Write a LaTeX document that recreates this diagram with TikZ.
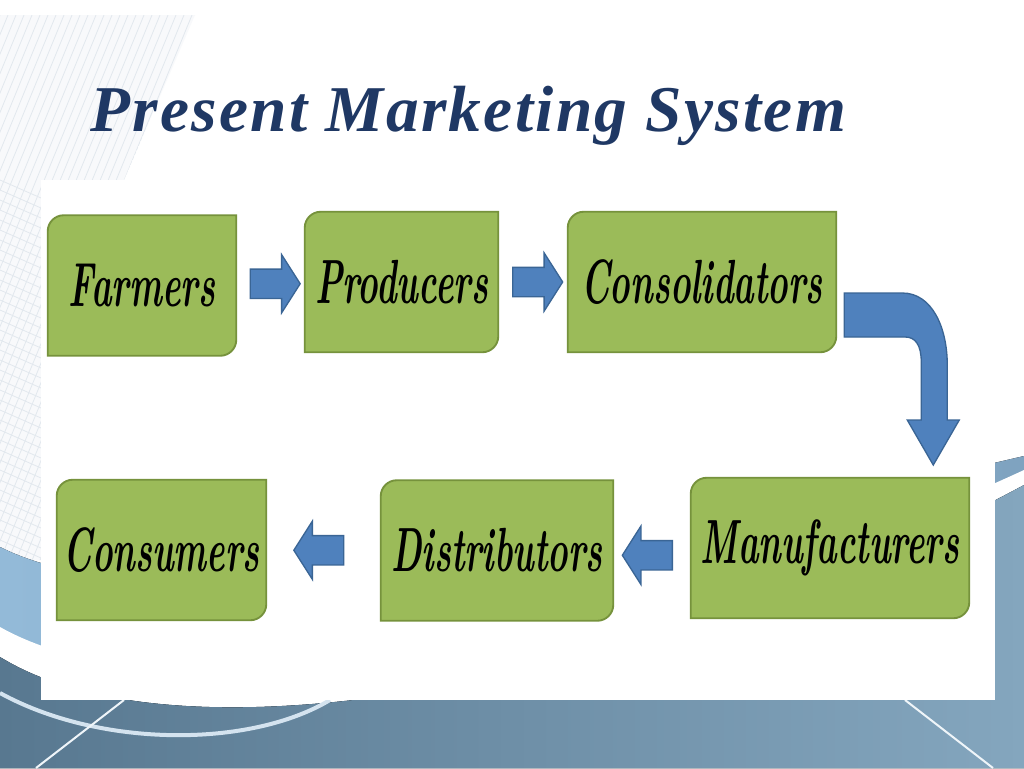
\documentclass[tikz,border=0pt]{standalone}
\usepackage{graphicx}
\usepackage{fontspec}
\usetikzlibrary{calc,shapes.arrows}

\newfontfamily\headfont[LetterSpace=3.5]{Liberation Serif}

\definecolor{titleblue}{HTML}{1F3864}
\definecolor{stagegreen}{HTML}{9BBB59}
\definecolor{stageedge}{HTML}{76923C}
\definecolor{flowblue}{HTML}{4F81BD}
\definecolor{flowedge}{HTML}{3A6595}
\definecolor{skyband}{HTML}{93BAD8}
\definecolor{skyright}{HTML}{7FA3C0}
\definecolor{seadark}{HTML}{587890}
\definecolor{sealight}{HTML}{84A6BE}
\definecolor{texgray}{HTML}{E2E8EE}

\pgfdeclarelayer{backdrop}
\pgfdeclarelayer{plates}
\pgfsetlayers{backdrop,plates,main}

\newdimen\px \px=0.75pt
\newcommand{\narrowtext}[1]{\scalebox{0.58}[1.04]{#1}}

\tikzset{
	stage/.style={minimum height=140\px, inner sep=0pt, text=black,
		font=\fontsize{45}{45}\selectfont\bfseries\itshape},
	plate/.style={fill=stagegreen, draw=stageedge, line width=1.4pt},
	flow/.style={single arrow, fill=flowblue, draw=flowedge, line width=1pt,
		minimum height=50\px, minimum width=57\px, inner sep=14\px,
		single arrow head extend=14.5\px, single arrow tip angle=115},
	texline/.style={draw=texgray, line width=0.6pt},
}

\begin{document}
\begin{tikzpicture}[x=0.75pt, y=0.75pt]
	\useasboundingbox (0,0) rectangle (1024,-768);

	\begin{pgfonlayer}{backdrop}
		\fill[white] (0,0) rectangle (1024,-768);
		\begin{scope}
			\clip (0,-15) -- (195,-15) -- (124,-180) -- (41,-180) -- (41,-560) -- (0,-560) -- cycle;
			\fill[texgray!25] (0,0) rectangle (200,-560);
			\foreach \x in {0,8,...,420}
				\draw[texline] (\x,-15) -- ++(-230,-560);
			\foreach \y in {-180,-190,...,-560}
				\draw[texline] (0,\y) -- ++(41,-18);
		\end{scope}
		\fill[left color=skyband, right color=skyright]
			(0,-547) .. controls (200,-647) and (750,-520) .. (1024,-456)
			-- (1024,-768) -- (0,-768) -- cycle;
		\fill[white]
			(0,-627) .. controls (200,-740) and (700,-620) .. (1024,-470)
			-- (1024,-485) .. controls (700,-660) and (200,-780) .. (0,-657) -- cycle;
		\fill[left color=seadark, right color=sealight]
			(0,-657) .. controls (200,-780) and (700,-660) .. (1024,-485)
			-- (1024,-768) -- (0,-768) -- cycle;
		\draw[white!60!skyband, line width=3pt] (0,-693) .. controls (100,-748) and (250,-748) .. (330,-700);
		\draw[white!85!skyband, line width=1.5pt] (36,-768) -- (124,-700);
		\draw[white!85!skyband, line width=1.5pt] (905,-700) -- (993,-768);
		\fill[white] (41,-180) rectangle (995,-700);
	\end{pgfonlayer}

	\node[anchor=base west, inner sep=0pt, text=titleblue,
		font=\headfont\fontsize{49}{49}\selectfont\bfseries\itshape] (title) at (90,-131) {Present Marketing System};

	\node[stage, minimum width=188\px] (farm) at (142,-285.5) {\narrowtext{Farmers}};
	\node[stage, minimum width=193\px] (prod) at (401.5,-282) {\narrowtext{Producers}};
	\node[stage, minimum width=268\px] (cons) at (702,-282) {\narrowtext{Consolidators}};
	\node[stage, minimum width=278\px] (manu) at (830,-548) {\narrowtext{Manufacturers}};
	\node[stage, minimum width=232\px] (dist) at (497,-550.5) {\narrowtext{Distributors}};
	\node[stage, minimum width=209\px] (cust) at (161.5,-550) {\narrowtext{Consumers}};

	\begin{pgfonlayer}{plates}
		\foreach \s in {farm,prod,cons,manu,dist,cust}
			\draw[plate] (\s.south west) -- ($(\s.north west)+(0,-16)$) arc[start angle=180, end angle=90, radius=16\px]
				-- (\s.north east) -- ($(\s.south east)+(0,16)$) arc[start angle=0, end angle=-90, radius=16\px] -- cycle;
	\end{pgfonlayer}

	\node[flow] (ar1) at ($(farm.east)!0.5!(prod.west)$) {};
	\node[flow] (ar2) at ($(prod.east)!0.5!(cons.west)$) {};
	\node[flow, shape border rotate=180, yshift=-6\px] (ar4) at ($(manu.west)!0.5!(dist.east)$) {};
	\node[flow, shape border rotate=180] (ar5) at ($(dist.west)!0.5!(cust.east)$) {};

	% bent arrow from Consolidators down to Manufacturers
	\coordinate (bend) at ($(cons.east)+(8,-11)$);
	\draw[fill=flowblue, draw=flowedge, line width=1pt, shift={(bend)}]
		(0,0) -- (58,0) .. controls (88,0) and (103,-35) .. (103,-72) -- (103,-127)
		-- (115,-127) -- (89,-172) -- (63,-127) -- (77,-127) -- (77,-69)
		.. controls (77,-52) and (71,-44) .. (61,-44) -- (0,-44) -- cycle;
\end{tikzpicture}
\end{document}
